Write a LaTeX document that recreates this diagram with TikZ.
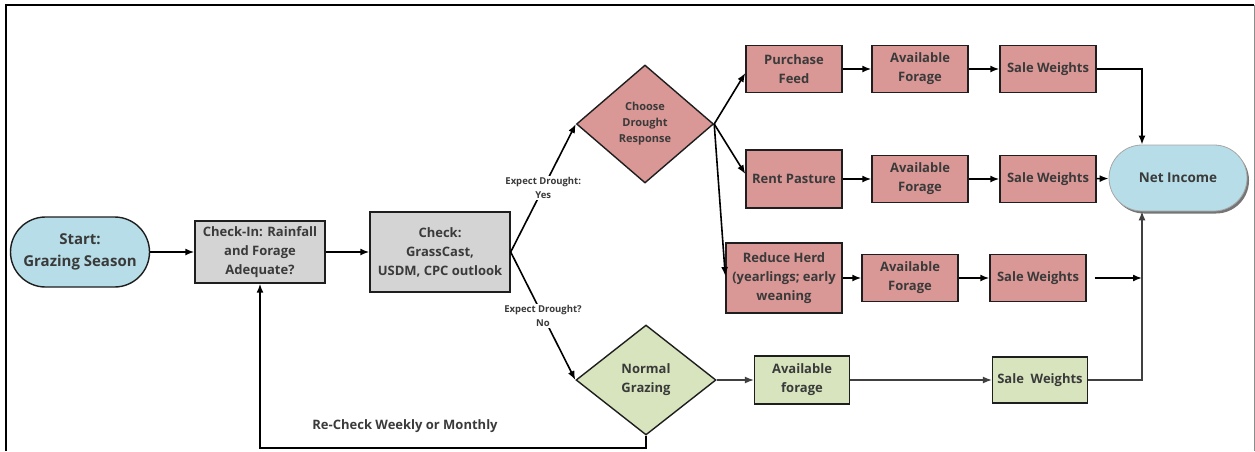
\documentclass[tikz,border=0pt]{standalone}
\usepackage{fontspec}
\setmainfont{Open Sans}
\usetikzlibrary{arrows.meta,shapes.geometric,shapes.misc,calc,shadows}
\definecolor{pinkfill}{HTML}{D99795}
\definecolor{greenfill}{HTML}{D7E4BD}
\definecolor{bluefill}{HTML}{B7DEE8}
\definecolor{grayfill}{HTML}{D4D4D4}
\definecolor{txt}{HTML}{3A3A3A}
\definecolor{edge}{HTML}{1E1E1E}
\newcommand\myfs[2]{\fontsize{#1}{#2}\selectfont\bfseries}
\begin{document}
\begin{tikzpicture}[x=1pt,y=-1pt,
  every node/.style={text=txt, inner sep=0pt, align=center},
  boxnode/.style={draw=edge, line width=1.4pt, font=\myfs{13}{19}},
  pinkbox/.style={boxnode, fill=pinkfill, minimum width=96pt, minimum height=47pt},
  pill/.style={rounded rectangle, fill=bluefill},
  decide/.style={diamond, draw=edge, line width=1.4pt, inner sep=0pt},
  arr/.style={line width=1.6pt, draw=black, -{Latex[length=9pt,width=7pt]}},
  arrg/.style={line width=1.2pt, draw=black!75, -{Latex[length=9pt,width=7pt]}},
  lbl/.style={fill=white, inner sep=1.5pt, font=\myfs{9.5}{14}},
]
\useasboundingbox (0,0) rectangle (1255,451);

% frame
\draw[line width=2.4pt] (6,451) -- (6,5) -- (1254,5);
\draw[line width=0.8pt, black!45] (1254,5) -- (1254,451);

% left part
\node[pill, draw=edge, line width=1.4pt, minimum width=139pt, minimum height=70pt,
      font=\myfs{15}{22}] (start) at (80,252) {Start:\\Grazing Season};
\node[boxnode, fill=grayfill, minimum width=130pt, minimum height=62pt] (ci) at (260,252)
      {Check-In: Rainfall\\and Forage\\Adequate?};
\node[boxnode, fill=grayfill, minimum width=140pt, minimum height=80pt] (chk) at (440,252)
      {Check:\\GrassCast,\\USDM, CPC outlook};

% decisions
\node[decide, fill=pinkfill, minimum width=137pt, minimum height=118pt,
      font=\myfs{11}{16}] (cd) at (645,124) {Choose\\Drought\\Response};
\node[decide, fill=greenfill, minimum width=140pt, minimum height=110pt,
      font=\myfs{13}{19}] (ng) at (646,380) {Normal\\Grazing};

% drought responses
\node[pinkbox] (pf)  at (794,69)  {Purchase\\Feed};
\node[pinkbox] (af1) at (920,69)  {Available\\Forage};
\node[pinkbox] (sw1) at (1048,69) {Sale Weights};
\node[pinkbox, minimum height=58pt] (rp) at (794,179) {Rent Pasture};
\node[pinkbox] (af2) at (920,179) {Available\\Forage};
\node[pinkbox] (sw2) at (1048,179) {Sale Weights};
\node[pinkbox, minimum width=116pt, minimum height=70pt] (rh) at (784,278)
      {Reduce Herd\\(yearlings; early\\weaning};
\node[pinkbox] (af3) at (910,278) {Available\\Forage};
\node[pinkbox] (sw3) at (1038,278) {Sale Weights};

% normal grazing branch
\node[boxnode, fill=greenfill, minimum width=95pt, minimum height=48pt] (gaf) at (802,380)
      {Available\\forage};
\node[boxnode, fill=greenfill, minimum width=95pt, minimum height=46pt] (gsw) at (1040,380)
      {Sale\ \ Weights};

% outcome
\node[pill, draw=black!35, line width=0.8pt, minimum width=138pt, minimum height=66pt,
      font=\myfs{13.5}{19},
      drop shadow={shadow xshift=2pt, shadow yshift=-2.5pt, fill=black!60, opacity=0.9}]
      (ni) at (1178,178) {Net Income};

% connectors
\draw[arr] (start) -- (ci);
\draw[arr] (ci) -- (chk);
\draw[arr] (chk.east) -- node[lbl, pos=0.5] {Expect Drought:\\Yes} (cd.west);
\draw[arr] (chk.east) -- node[lbl, pos=0.5] {Expect Drought?\\No} (ng.west);

\draw[arr] (cd.east) -- ($(pf.west)+(0,4)$);
\draw[arr] (cd.east) -- ($(rp.west)+(0,-5)$);
\draw[arr] (cd.east) -- ($(rh.west)+(0,-2)$);

\draw[arr] (pf) -- (af1);
\draw[arr] (af1) -- (sw1);
\draw[arr] (rp) -- (af2);
\draw[arr] (af2) -- (sw2);
\draw[arr] (rh) -- (af3);
\draw[arr] (af3) -- (sw3);

\draw[arr] (sw1.east) -| ($(ni.north)+(-36,0)$);
\draw[arr] (sw2) -- (ni);
\coordinate (j3) at (1142,278);
\draw[arr] ($(sw3.east)+(8,0)$) -- (j3);

\draw[arrg] (ng.east) -- (gaf.west);
\draw[arrg] (gaf.east) -- (gsw.west);
\draw[arrg] (gsw.east) -| ($(ni.south)+(-36,0)$);

% re-check loop
\draw[arr] (ng.south) -- ++(0,12) -| (ci.south);
\node[font=\myfs{13}{17}] (rc) at (405,426) {Re-Check Weekly or Monthly};
\end{tikzpicture}
\end{document}
